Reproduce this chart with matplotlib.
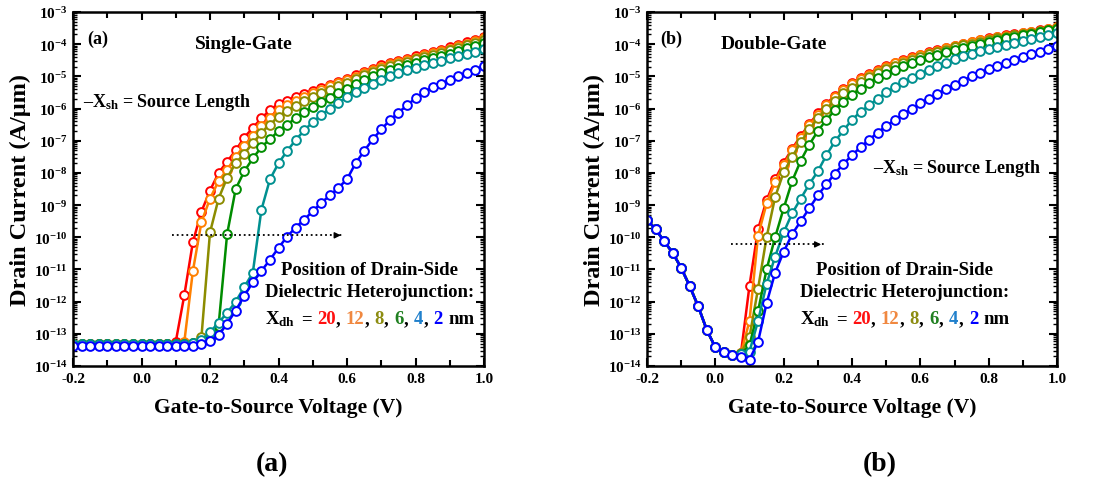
import numpy as np
import matplotlib
matplotlib.use("Agg")
import matplotlib.pyplot as plt
from matplotlib.ticker import MultipleLocator, LogLocator, FuncFormatter, NullFormatter
from matplotlib.offsetbox import TextArea, HPacker, AnchoredOffsetbox

plt.rcParams['font.family'] = ['Liberation Serif', 'DejaVu Serif']
plt.rcParams['font.weight'] = 'bold'
plt.rcParams['axes.unicode_minus'] = False
plt.rcParams['mathtext.fontset'] = 'custom'
plt.rcParams['mathtext.rm'] = 'Liberation Serif:bold'
plt.rcParams['mathtext.bf'] = 'Liberation Serif:bold'
plt.rcParams['mathtext.it'] = 'Liberation Serif:bold'

# gate voltage sweep (V)
v_gs = [-0.2, -0.175, -0.15, -0.125, -0.1, -0.075, -0.05, -0.025,
        0.0, 0.025, 0.05, 0.075, 0.1, 0.125, 0.15, 0.175,
        0.2, 0.225, 0.25, 0.275, 0.3, 0.325, 0.35, 0.375,
        0.4, 0.425, 0.45, 0.475, 0.5, 0.525, 0.55, 0.575,
        0.6, 0.625, 0.65, 0.675, 0.7, 0.725, 0.75, 0.775,
        0.8, 0.825, 0.85, 0.875, 0.9, 0.925, 0.95, 0.975, 1.0]

xdh_labels = ['20', '12', '8', '6', '4', '2']

# log10 of drain current (A/um), single-gate, Xdh = 20,12,8,6,4,2 nm
sg_20 = [-13.33, -13.33, -13.33, -13.33, -13.33, -13.33, -13.33, -13.33,
         -13.33, -13.33, -13.33, -13.33, -13.25, -11.8, -10.15, -9.2,
         -8.55, -8.0, -7.65, -7.3, -6.9, -6.6, -6.3, -6.05,
         -5.85, -5.75, -5.64, -5.55, -5.45, -5.35, -5.26, -5.17,
         -5.08, -4.97, -4.86, -4.76, -4.66, -4.59, -4.52, -4.45,
         -4.38, -4.31, -4.24, -4.17, -4.1, -4.02, -3.94, -3.86, -3.78]
sg_12 = [-13.33, -13.33, -13.33, -13.33, -13.33, -13.33, -13.33, -13.33,
         -13.33, -13.33, -13.33, -13.33, -13.33, -13.25, -11.05, -9.53,
         -8.8, -8.25, -7.9, -7.5, -7.15, -6.85, -6.55, -6.28,
         -6.05, -5.88, -5.75, -5.63, -5.52, -5.41, -5.31, -5.22,
         -5.12, -5.01, -4.9, -4.8, -4.7, -4.63, -4.56, -4.49,
         -4.42, -4.35, -4.28, -4.21, -4.14, -4.06, -3.98, -3.9, -3.82]
sg_8 = [-13.33, -13.33, -13.33, -13.33, -13.33, -13.33, -13.33, -13.33,
        -13.33, -13.33, -13.33, -13.33, -13.33, -13.33, -13.3, -13.1,
        -9.85, -8.8, -8.15, -7.7, -7.4, -7.08, -6.75, -6.5,
        -6.25, -6.07, -5.92, -5.78, -5.65, -5.53, -5.42, -5.31,
        -5.2, -5.08, -4.97, -4.87, -4.77, -4.69, -4.62, -4.55,
        -4.47, -4.4, -4.33, -4.26, -4.19, -4.11, -4.03, -3.95, -3.88]
sg_6 = [-13.33, -13.33, -13.33, -13.33, -13.33, -13.33, -13.33, -13.33,
        -13.33, -13.33, -13.33, -13.33, -13.33, -13.33, -13.3, -13.25,
        -13.15, -12.75, -9.9, -8.5, -7.95, -7.55, -7.2, -6.95,
        -6.7, -6.5, -6.3, -6.12, -5.95, -5.8, -5.66, -5.52,
        -5.38, -5.25, -5.12, -5.0, -4.9, -4.81, -4.73, -4.65,
        -4.57, -4.5, -4.43, -4.36, -4.29, -4.21, -4.13, -4.05, -3.97]
sg_4 = [-13.33, -13.33, -13.33, -13.33, -13.33, -13.33, -13.33, -13.33,
        -13.33, -13.33, -13.33, -13.33, -13.33, -13.33, -13.3, -13.2,
        -12.95, -12.65, -12.35, -12.0, -11.55, -11.1, -9.15, -8.2,
        -7.7, -7.32, -6.98, -6.68, -6.42, -6.2, -6.0, -5.82,
        -5.65, -5.5, -5.36, -5.23, -5.11, -5.0, -4.9, -4.81,
        -4.73, -4.65, -4.58, -4.51, -4.44, -4.37, -4.3, -4.23, -4.16]
sg_2 = [-13.38, -13.38, -13.38, -13.38, -13.38, -13.38, -13.38, -13.38,
        -13.38, -13.38, -13.38, -13.38, -13.38, -13.38, -13.38, -13.33,
        -13.23, -13.05, -12.68, -12.28, -11.82, -11.4, -11.05, -10.7,
        -10.33, -9.98, -9.7, -9.45, -9.19, -8.93, -8.7, -8.46,
        -8.2, -7.7, -7.32, -6.96, -6.65, -6.36, -6.13, -5.9,
        -5.68, -5.5, -5.34, -5.24, -5.1, -4.99, -4.9, -4.79, -4.68]

# log10 of drain current (A/um), double-gate; all curves overlap for Vgs < 0
dg_shared = [-9.45, -9.75, -10.12, -10.48, -10.95, -11.52, -12.15, -12.88]
dg_20 = dg_shared + [
        -13.42, -13.56, -13.66, -13.6, -11.5, -9.75, -8.85, -8.2,
        -7.68, -7.25, -6.85, -6.48, -6.15, -5.85, -5.6, -5.4,
        -5.22, -5.06, -4.92, -4.79, -4.68, -4.58, -4.49, -4.41,
        -4.33, -4.25, -4.18, -4.11, -4.05, -3.99, -3.93, -3.87,
        -3.82, -3.77, -3.73, -3.69, -3.65, -3.61, -3.57, -3.52, -3.47]
dg_12 = dg_shared + [
        -13.42, -13.56, -13.66, -13.6, -12.6, -9.95, -8.95, -8.28,
        -7.75, -7.3, -6.9, -6.52, -6.2, -5.9, -5.64, -5.43,
        -5.25, -5.09, -4.95, -4.82, -4.71, -4.6, -4.51, -4.43,
        -4.35, -4.27, -4.2, -4.13, -4.06, -4.0, -3.94, -3.88,
        -3.83, -3.78, -3.74, -3.7, -3.66, -3.62, -3.58, -3.53, -3.48]
dg_8 = dg_shared + [
        -13.42, -13.56, -13.66, -13.6, -13.1, -11.6, -10.0, -8.75,
        -7.98, -7.5, -7.05, -6.65, -6.3, -6.0, -5.75, -5.53,
        -5.35, -5.18, -5.03, -4.9, -4.78, -4.67, -4.57, -4.48,
        -4.4, -4.32, -4.24, -4.17, -4.1, -4.04, -3.98, -3.92,
        -3.87, -3.82, -3.77, -3.73, -3.69, -3.65, -3.6, -3.55, -3.5]
dg_6 = dg_shared + [
        -13.42, -13.56, -13.66, -13.62, -13.35, -12.3, -11.0, -10.0,
        -9.1, -8.25, -7.62, -7.12, -6.7, -6.35, -6.05, -5.8,
        -5.58, -5.38, -5.2, -5.05, -4.92, -4.8, -4.69, -4.59,
        -4.5, -4.41, -4.33, -4.25, -4.18, -4.11, -4.05, -3.98,
        -3.92, -3.87, -3.82, -3.77, -3.72, -3.67, -3.62, -3.57, -3.53]
dg_4 = dg_shared + [
        -13.42, -13.56, -13.66, -13.63, -13.55, -12.6, -11.45, -10.6,
        -9.85, -9.25, -8.8, -8.35, -7.95, -7.45, -7.02, -6.68,
        -6.35, -6.1, -5.9, -5.7, -5.5, -5.34, -5.19, -5.05,
        -4.92, -4.8, -4.68, -4.57, -4.47, -4.38, -4.3, -4.22,
        -4.15, -4.08, -4.01, -3.95, -3.89, -3.83, -3.77, -3.72, -3.66]
dg_2 = dg_shared + [
        -13.42, -13.56, -13.66, -13.72, -13.8, -13.25, -12.05, -11.1,
        -10.45, -9.9, -9.5, -9.1, -8.7, -8.35, -8.02, -7.72,
        -7.45, -7.2, -6.97, -6.75, -6.54, -6.36, -6.18, -6.01,
        -5.84, -5.69, -5.55, -5.4, -5.26, -5.13, -5.0, -4.88,
        -4.78, -4.68, -4.58, -4.49, -4.4, -4.32, -4.24, -4.16, -4.07]

line_colors = ['#ff0000', '#ff8000', '#8c8c00', '#008c00', '#009090', '#0000ff']
label_colors = ['#ff1010', '#f08840', '#8c8c10', '#208020', '#2080cc', '#0000ff']


def xdh_line(ax, x, y):
    # "Xdh = 20, 12, 8, 6, 4, 2 nm" with coloured numbers
    tp = dict(fontsize=13.5, fontweight='bold')
    items = [TextArea(r'X$_{\mathrm{dh}}$', textprops=dict(color='black', **tp)),
             TextArea('=', textprops=dict(color='black', **tp))]
    for i, (lab, col) in enumerate(zip(xdh_labels, label_colors)):
        num = TextArea(lab, textprops=dict(color=col, **tp))
        if i < len(xdh_labels) - 1:
            items.append(HPacker(children=[num, TextArea(',', textprops=dict(color='black', **tp))],
                                 align='baseline', pad=0, sep=0))
        else:
            items.append(num)
    items.append(TextArea('nm', textprops=dict(color='black', **tp)))
    box = HPacker(children=items, align='baseline', pad=0, sep=4)
    anchored = AnchoredOffsetbox(loc='center', child=box, bbox_to_anchor=(x, y),
                                 bbox_transform=ax.transAxes, frameon=False, pad=0, borderpad=0)
    ax.add_artist(anchored)


def plotPanel(ax, curves, tag, title, title_x, xsh_xy, arrow_x, arrow_y, legend_x):
    for vals, col in zip(curves, line_colors):
        ax.plot(v_gs, np.power(10.0, vals), '-o', color=col, lw=1.8,
                ms=6.3, mfc='white', mec=col, mew=1.4)
    ax.set_yscale('log')
    ax.set_xlim(-0.2, 1.0)
    ax.set_ylim(1e-14, 1e-3)
    ax.xaxis.set_major_locator(MultipleLocator(0.2))
    ax.xaxis.set_minor_locator(MultipleLocator(0.1))
    ax.xaxis.set_major_formatter(FuncFormatter(lambda v, p: '%.1f' % v))
    ax.yaxis.set_major_locator(LogLocator(base=10, numticks=20))
    ax.yaxis.set_minor_locator(LogLocator(base=10, subs=np.arange(2, 10), numticks=20))
    ax.yaxis.set_minor_formatter(NullFormatter())
    ax.yaxis.set_major_formatter(FuncFormatter(lambda v, p: r'$10^{%d}$' % round(np.log10(v))))
    ax.tick_params(which='both', direction='in', top=True, right=True)
    ax.tick_params(which='major', length=6, width=1.5, labelsize=11, pad=4)
    ax.tick_params(axis='x', which='minor', length=4, width=1.5)
    ax.tick_params(axis='y', which='minor', length=3, width=1.0)
    for sp in ax.spines.values():
        sp.set_linewidth(1.8)
    ax.set_xlabel('Gate-to-Source Voltage (V)', fontsize=15.5, fontweight='bold', labelpad=9)
    ax.set_ylabel('Drain Current (A/\u03bcm)', fontsize=17.5, fontweight='bold', labelpad=2)

    ax.text(0.06, 0.925, tag, transform=ax.transAxes, fontsize=13, ha='center', va='center')
    ax.text(title_x, 0.912, title, transform=ax.transAxes, fontsize=14, ha='center', va='center')
    ax.text(xsh_xy[0], xsh_xy[1], '\u2013X$_{\\mathrm{sh}}$ = Source Length', transform=ax.transAxes,
            fontsize=13, ha='left', va='center')

    # dotted arrow: increasing Xdh shifts the curves
    ax.plot(arrow_x, [arrow_y, arrow_y], ':', color='black', lw=1.3)
    ax.annotate('', xy=(arrow_x[1], arrow_y), xytext=(arrow_x[1] - 0.03, arrow_y),
                arrowprops=dict(arrowstyle='-|>', color='black', lw=1.0, mutation_scale=9))

    ax.text(legend_x, 0.272, 'Position of Drain-Side', transform=ax.transAxes,
            fontsize=13.5, ha='center', va='center')
    ax.text(legend_x, 0.21, 'Dielectric Heterojunction:', transform=ax.transAxes,
            fontsize=13.5, ha='center', va='center')
    xdh_line(ax, legend_x, 0.135)


fig = plt.figure(figsize=(11.04, 4.85), dpi=100)
ax1 = fig.add_axes([73 / 1104, 1 - 367 / 485, 411 / 1104, 354 / 485])
ax2 = fig.add_axes([647 / 1104, 1 - 367 / 485, 410 / 1104, 354 / 485])

plotPanel(ax1, [sg_20, sg_12, sg_8, sg_6, sg_4, sg_2], '(a)', 'Single-Gate', 0.415,
          (0.025, 0.746), [0.09, 0.59], 1.15e-10, 0.722)
plotPanel(ax2, [dg_20, dg_12, dg_8, dg_6, dg_4, dg_2], '(b)', 'Double-Gate', 0.31,
          (0.551, 0.562), [0.045, 0.318], 6e-11, 0.629)

fig.text(272 / 1104, 1 - 465 / 485, '(a)', fontsize=20, ha='center', va='center')
fig.text(880 / 1104, 1 - 465 / 485, '(b)', fontsize=20, ha='center', va='center')

fig.savefig('out.png', dpi=100)
